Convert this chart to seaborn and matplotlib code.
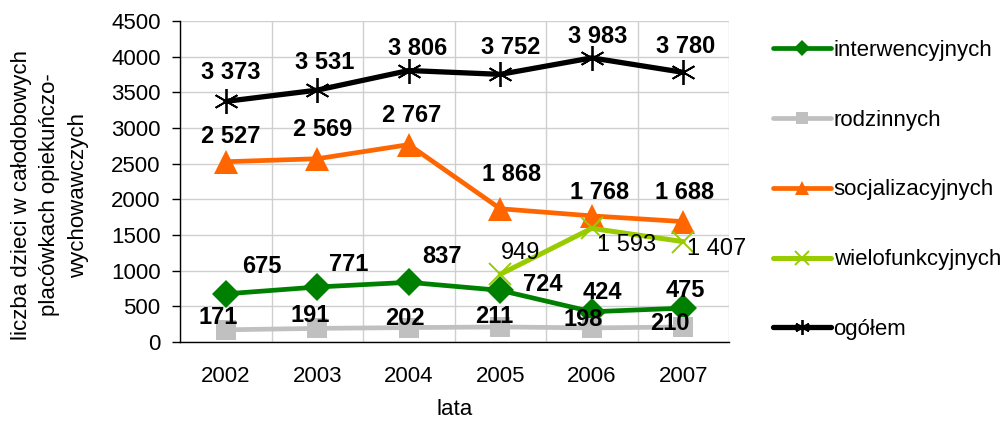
import numpy as np
import pandas as pd
import matplotlib
matplotlib.use("Agg")
import matplotlib.pyplot as plt
import seaborn as sns
from matplotlib.ticker import FixedLocator, MultipleLocator

# --- data -------------------------------------------------------------
years = ["2002", "2003", "2004", "2005", "2006", "2007"]
interwencyjnych = [675, 771, 837, 724, 424, 475]
rodzinnych = [171, 191, 202, 211, 198, 210]
socjalizacyjnych = [2527, 2569, 2767, 1868, 1768, 1688]
wielofunkcyjnych = [np.nan, np.nan, np.nan, 949, 1593, 1407]
ogolem = [3373, 3531, 3806, 3752, 3983, 3780]

series_names = ["interwencyjnych", "rodzinnych", "socjalizacyjnych",
                "wielofunkcyjnych", "ogółem"]
series_values = [interwencyjnych, rodzinnych, socjalizacyjnych,
                 wielofunkcyjnych, ogolem]

# --- style ------------------------------------------------------------
sns.set_theme(style="white")
plt.rcParams["font.family"] = ["Liberation Sans", "DejaVu Sans"]
plt.rcParams["text.color"] = "black"

styles = {
    "interwencyjnych": dict(color="#008000", marker="D", ms=14, mew=0, lw=3.4),
    "rodzinnych": dict(color="#C0C0C0", marker="s", ms=15, mew=0, lw=3.4),
    "socjalizacyjnych": dict(color="#FF6600", marker="^", ms=17, mew=0, lw=3.4),
    "wielofunkcyjnych": dict(color="#99CC00", marker="x", ms=16, mew=1.4, lw=3.6),
    "ogółem": dict(color="#000000", marker=(6, 2, 0), ms=18, mew=1.3, lw=3.8),
}
label_bold = {"interwencyjnych": True, "rodzinnych": True,
              "socjalizacyjnych": True, "wielofunkcyjnych": False,
              "ogółem": True}
# label offsets in pixels (x right, y down) relative to each point
label_offsets = {
    "interwencyjnych": [(36, -27), (31, -23), (33, -26), (43, -6), (11, -19), (2, -18)],
    "rodzinnych": [(-8, -12), (-7, -13), (-4, -9), (-6, -10), (-9, -8), (-13, -4)],
    "socjalizacyjnych": [(5, -25), (5, -29), (3, -29), (11, -34), (8, -23), (1, -29)],
    "wielofunkcyjnych": [None, None, None, (20, -21), (35, 17), (33, 7)],
    "ogółem": [(5, -29), (7, -28), (9, -22), (10, -27), (6, -21), (2, -26)],
}

fig = plt.figure(figsize=(10.06, 4.21), dpi=100)
ax = fig.add_axes([180 / 1006, 1 - 342 / 421, (729 - 180) / 1006, (342 - 21) / 421])

xpos = np.arange(len(years))
for name, vals in zip(series_names, series_values):
    st = styles[name]
    df = pd.DataFrame({"rok": xpos, "liczba": vals}).dropna()
    sns.lineplot(data=df, x="rok", y="liczba", ax=ax, color=st["color"],
                 marker=st["marker"], markersize=st["ms"],
                 markeredgewidth=st["mew"], markeredgecolor=st["color"],
                 linewidth=st["lw"], label=name, clip_on=False)

for name, vals in zip(series_names, series_values):
    for i, v in enumerate(vals):
        if np.isnan(v):
            continue
        dx, dy = label_offsets[name][i]
        txt = f"{int(v):,}".replace(",", " ")
        ax.annotate(txt, (xpos[i], v), xytext=(dx, -dy),
                    textcoords="offset pixels", ha="center", va="center",
                    fontsize=17, fontweight="bold" if label_bold[name] else "normal",
                    color="black", annotation_clip=False, zorder=10)

# --- axes ---------------------------------------------------------------
ax.set_xlim(-0.5, len(years) - 0.5)
ax.set_ylim(0, 4500)
ax.yaxis.set_major_locator(MultipleLocator(500))
ax.xaxis.set_major_locator(FixedLocator(xpos))
ax.xaxis.set_minor_locator(FixedLocator(np.arange(-0.5, len(years), 1.0)))
ax.set_xticklabels(years)
ax.tick_params(axis="x", which="major", length=0, labelsize=16, pad=17, colors="black")
ax.tick_params(axis="x", which="minor", length=6, width=1, color="black", direction="out")
ax.tick_params(axis="y", length=6, width=1, color="black", direction="out",
               labelsize=16, colors="black", left=True, pad=8)
ax.grid(False)
ax.grid(axis="y", which="major", color="#CFCFCF", lw=1)
ax.grid(axis="x", which="minor", color="#CFCFCF", lw=1)
ax.set_axisbelow(True)
for side in ["top", "right"]:
    ax.spines[side].set_visible(False)
for side in ["left", "bottom"]:
    ax.spines[side].set_color("black")
    ax.spines[side].set_linewidth(1)

ax.set_xlabel("lata", fontsize=16, labelpad=9, color="black")
ax.set_ylabel("")
fig.text(50 / 1006, 1 - 195 / 421,
         "liczba dzieci w całodobowych\nplacówkach opiekuńczo-\nwychowawczych",
         rotation=90, ha="center", va="center", multialignment="center",
         fontsize=16, linespacing=1.45, color="black")

leg = ax.legend(loc="center left", bbox_to_anchor=(762 / 1006, 1 - 190 / 421),
                bbox_transform=fig.transFigure, frameon=False, fontsize=16,
                handlelength=2.6, handletextpad=0.12, labelspacing=2.2,
                borderpad=0, markerscale=0.6, labelcolor="black")

fig.savefig("out.png", dpi=100)
